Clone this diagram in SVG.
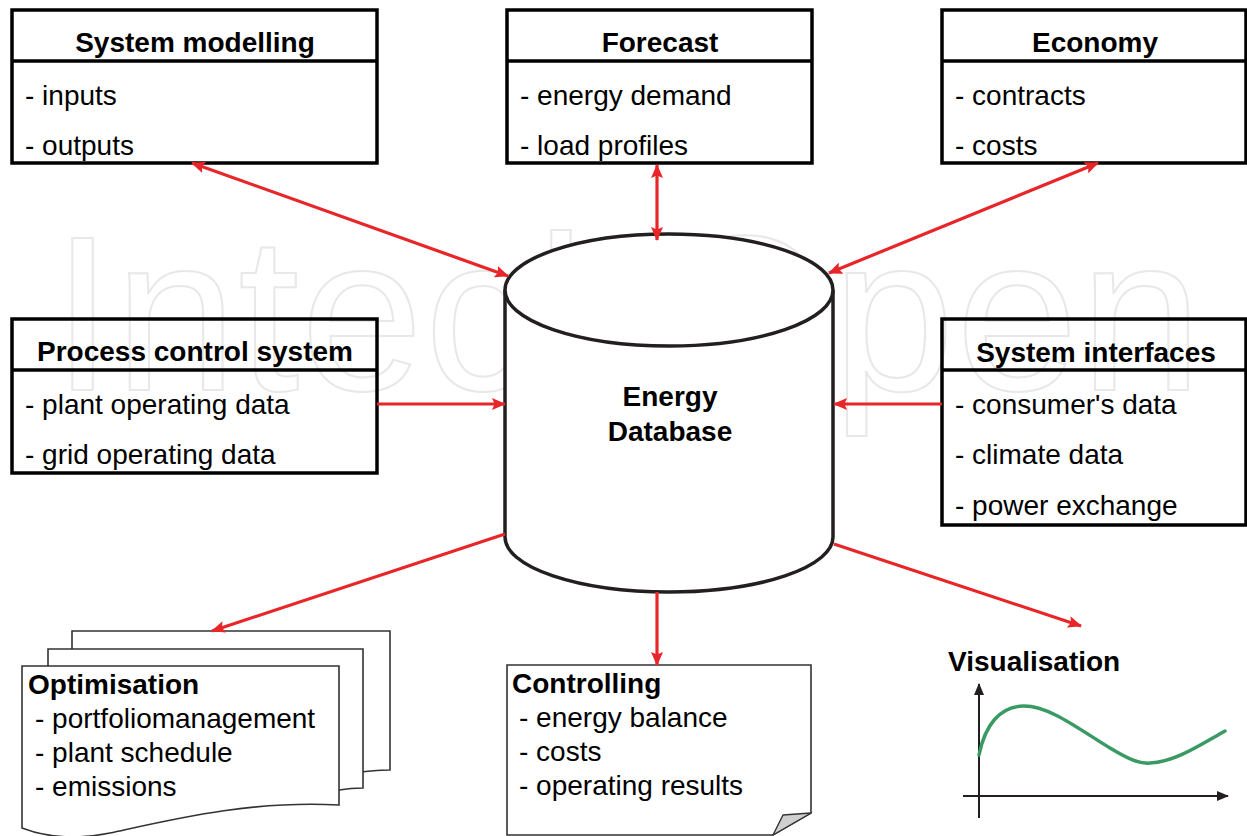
<svg xmlns="http://www.w3.org/2000/svg" width="1247" height="836" viewBox="0 0 1247 836">
<style>
text{font-family:"Liberation Sans",Arial,sans-serif;fill:#000}
.t{font-size:28px;font-weight:bold}
.i{font-size:28px}
.box{fill:none;stroke:#000;stroke-width:3.5}
.div{stroke:#000;stroke-width:3.5}
.page{fill:#fff;stroke:#333;stroke-width:1.6}
.con{stroke:#e8262a;stroke-width:3.2;fill:none}
.wm{font-size:220px;fill:none;stroke:#e8e8e8;stroke-width:2}
</style>
<defs>
<marker id="ah" viewBox="0 0 14 12" refX="13" refY="6" markerWidth="14" markerHeight="12" markerUnits="userSpaceOnUse" orient="auto-start-reverse">
<path d="M0,0 L14,6 L0,12 L2.5,6 Z" fill="#e8262a"/>
</marker>
<marker id="ak" viewBox="0 0 12 12" refX="11" refY="6" markerWidth="12" markerHeight="12" markerUnits="userSpaceOnUse" orient="auto">
<path d="M0,1 L12,6 L0,11 Z" fill="#231f20"/>
</marker>
</defs>
<rect width="1247" height="836" fill="#fff"/>
<text class="wm" x="52" y="390" textLength="1150" lengthAdjust="spacing">IntechOpen</text>

<g id="system-modelling">
<rect class="box" x="12" y="10" width="365" height="153"/>
<line class="div" x1="12" y1="61" x2="377" y2="61"/>
<text class="t" x="195" y="52" text-anchor="middle">System modelling</text>
<text class="i" x="25" y="105">- inputs</text>
<text class="i" x="25" y="155">- outputs</text>
</g>
<g id="forecast">
<rect class="box" x="507" y="10" width="305" height="153"/>
<line class="div" x1="507" y1="61" x2="812" y2="61"/>
<text class="t" x="660" y="52" text-anchor="middle">Forecast</text>
<text class="i" x="520" y="105">- energy demand</text>
<text class="i" x="520" y="155">- load profiles</text>
</g>
<g id="economy">
<rect class="box" x="942" y="10" width="304" height="153"/>
<line class="div" x1="942" y1="61" x2="1247" y2="61"/>
<text class="t" x="1095" y="52" text-anchor="middle">Economy</text>
<text class="i" x="955" y="105">- contracts</text>
<text class="i" x="955" y="155">- costs</text>
</g>
<g id="process-control-system">
<rect class="box" x="12" y="319" width="365" height="154"/>
<line class="div" x1="12" y1="370" x2="377" y2="370"/>
<text class="t" x="195" y="361" text-anchor="middle">Process control system</text>
<text class="i" x="25" y="414">- plant operating data</text>
<text class="i" x="25" y="464">- grid operating data</text>
</g>
<g id="system-interfaces">
<rect class="box" x="942" y="319" width="304" height="206"/>
<line class="div" x1="942" y1="370" x2="1247" y2="370"/>
<text class="t" x="1096" y="362" text-anchor="middle">System interfaces</text>
<text class="i" x="955" y="414">- consumer's data</text>
<text class="i" x="955" y="464">- climate data</text>
<text class="i" x="955" y="515">- power exchange</text>
</g>

<g id="energy-database">
<path d="M505,290 V537 A164,55 0 0 0 833,537 V290" fill="#fff" stroke="#231f20" stroke-width="3.5"/>
<ellipse cx="669" cy="290" rx="164" ry="56" fill="#fff" stroke="#231f20" stroke-width="3.5"/>
<text class="t" x="670" y="406" text-anchor="middle">Energy</text>
<text class="t" x="670" y="441" text-anchor="middle">Database</text>
</g>

<g id="optimisation">
<path class="page" d="M72,631 H390 V770 C375,770 360,772 345,774 L72,790 Z"/>
<path class="page" d="M48,649 H363 V788 C352,788 345,789 339,790 L48,810 Z"/>
<path class="page" d="M22,666 H339 V805 C250,800 170,820 110,833 C70,841 40,835 22,828 Z"/>
<text class="t" x="28" y="694">Optimisation</text>
<text class="i" x="35" y="728">- portfoliomanagement</text>
<text class="i" x="35" y="762">- plant schedule</text>
<text class="i" x="35" y="796">- emissions</text>
</g>

<g id="controlling">
<path class="page" d="M507,665 H811 V813 L773,835 H507 Z"/>
<path d="M811,813 L783,815 Q778,825 773,835 Z" fill="#d0d0d0" stroke="#333" stroke-width="1.4" stroke-linejoin="round"/>
<text class="t" x="512" y="693">Controlling</text>
<text class="i" x="519" y="727">- energy balance</text>
<text class="i" x="519" y="761">- costs</text>
<text class="i" x="519" y="795">- operating results</text>
</g>

<g id="visualisation">
<text class="t" x="948" y="671">Visualisation</text>
<line x1="979" y1="818" x2="979" y2="684" stroke="#231f20" stroke-width="2" marker-end="url(#ak)"/>
<line x1="963" y1="796" x2="1228" y2="796" stroke="#231f20" stroke-width="2" marker-end="url(#ak)"/>
<path d="M979,755 C985,725 1000,706 1024,706 C1050,706 1080,730 1110,748 C1130,760 1140,764 1150,763 C1175,762 1200,745 1225,731" fill="none" stroke="#3a9a63" stroke-width="3.5" stroke-linecap="round"/>
</g>

<g id="connectors">
<line class="con" x1="192" y1="163" x2="508" y2="276" marker-start="url(#ah)" marker-end="url(#ah)"/>
<line class="con" x1="657" y1="165" x2="657" y2="240" marker-start="url(#ah)" marker-end="url(#ah)"/>
<line class="con" x1="1098" y1="163" x2="829" y2="273" marker-start="url(#ah)" marker-end="url(#ah)"/>
<line class="con" x1="377" y1="404" x2="505" y2="404" marker-end="url(#ah)"/>
<line class="con" x1="942" y1="404" x2="834" y2="404" marker-end="url(#ah)"/>
<line class="con" x1="505" y1="534" x2="212" y2="631" marker-end="url(#ah)"/>
<line class="con" x1="657" y1="592" x2="657" y2="665" marker-end="url(#ah)"/>
<line class="con" x1="834" y1="544" x2="1081" y2="626" marker-end="url(#ah)"/>
</g>
</svg>
